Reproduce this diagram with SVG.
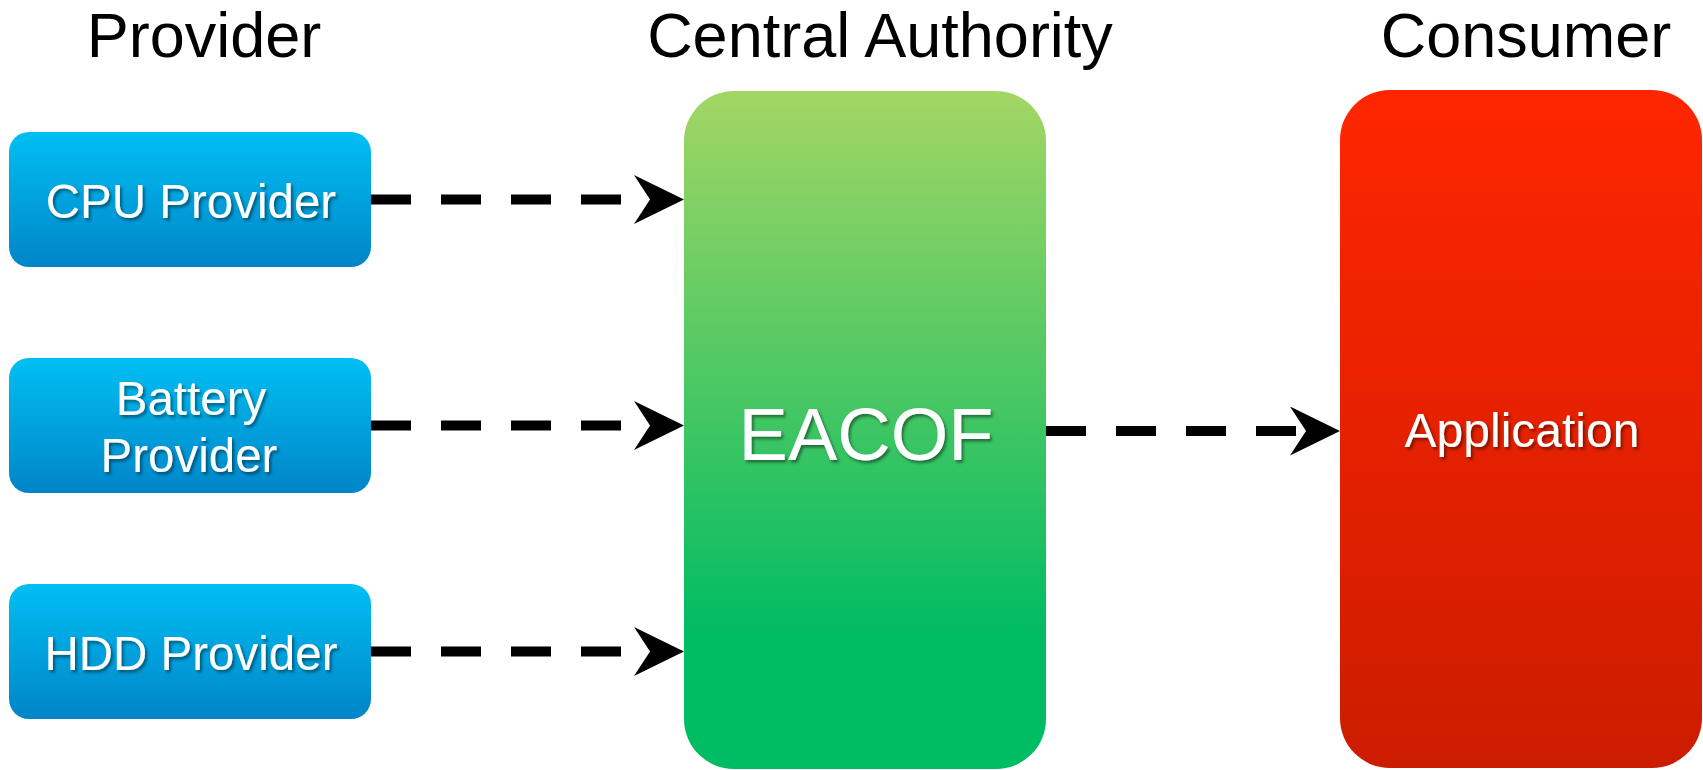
<svg xmlns="http://www.w3.org/2000/svg" width="1703" height="770" viewBox="0 0 1703 770">
<defs>
<linearGradient id="gBlue" x1="0" y1="0" x2="0" y2="1"><stop offset="0" stop-color="#00BFF3"/><stop offset="1" stop-color="#0085C8"/></linearGradient>
<linearGradient id="gGreen" x1="0" y1="0" x2="0" y2="1"><stop offset="0" stop-color="#A3D664"/><stop offset="0.8" stop-color="#00BC63"/><stop offset="1" stop-color="#00BC63"/></linearGradient>
<linearGradient id="gRed" x1="0" y1="0" x2="0" y2="1"><stop offset="0" stop-color="#FF2600"/><stop offset="1" stop-color="#CC1C00"/></linearGradient>
<filter id="sh" x="-10%" y="-30%" width="120%" height="160%"><feDropShadow dx="2" dy="2.5" stdDeviation="1.5" flood-color="#000" flood-opacity="0.45"/></filter>
<marker id="ah" markerUnits="userSpaceOnUse" markerWidth="52" markerHeight="52" refX="16" refY="24.5" orient="auto" viewBox="0 0 52 52"><path d="M0,0 L50,24.5 L0,49 L16,24.5 Z" fill="#000"/></marker>
</defs>
<style>
.title{font-family:"Liberation Sans",Arial,sans-serif;font-size:63px;fill:#000;text-anchor:middle}
.lbl{font-family:"Liberation Sans",Arial,sans-serif;font-size:47.5px;fill:#fff;text-anchor:middle;filter:url(#sh)}
.conn{stroke:#000;stroke-width:10;stroke-dasharray:40 30;fill:none;marker-end:url(#ah)}
</style>
<rect width="1703" height="770" fill="#fff"/>
<g id="titles">
<text class="title" x="204" y="57">Provider</text>
<text class="title" x="880" y="57">Central Authority</text>
<text class="title" x="1526" y="57">Consumer</text>
</g>
<g id="cpu">
<rect x="9" y="132" width="362" height="135" rx="20" fill="url(#gBlue)"/>
<text class="lbl" x="191" y="218">CPU Provider</text>
</g>
<g id="battery">
<rect x="9" y="358" width="362" height="135" rx="20" fill="url(#gBlue)"/>
<text class="lbl" x="191" y="415">Battery</text>
<text class="lbl" x="189" y="472">Provider</text>
</g>
<g id="hdd">
<rect x="9" y="584" width="362" height="135" rx="20" fill="url(#gBlue)"/>
<text class="lbl" x="191" y="670">HDD Provider</text>
</g>
<g id="eacof">
<rect x="684" y="91" width="362" height="678" rx="50" fill="url(#gGreen)"/>
<text class="lbl" x="866" y="460" style="font-size:74px">EACOF</text>
</g>
<g id="application">
<rect x="1340" y="90" width="362" height="678" rx="50" fill="url(#gRed)"/>
<text class="lbl" x="1522" y="447" style="font-size:48px">Application</text>
</g>
<g id="connectors">
<line class="conn" x1="371" y1="199.5" x2="650" y2="199.5"/>
<line class="conn" x1="371" y1="425.5" x2="650" y2="425.5"/>
<line class="conn" x1="371" y1="651.5" x2="650" y2="651.5"/>
<line class="conn" x1="1046" y1="431" x2="1306" y2="431"/>
</g>
</svg>
